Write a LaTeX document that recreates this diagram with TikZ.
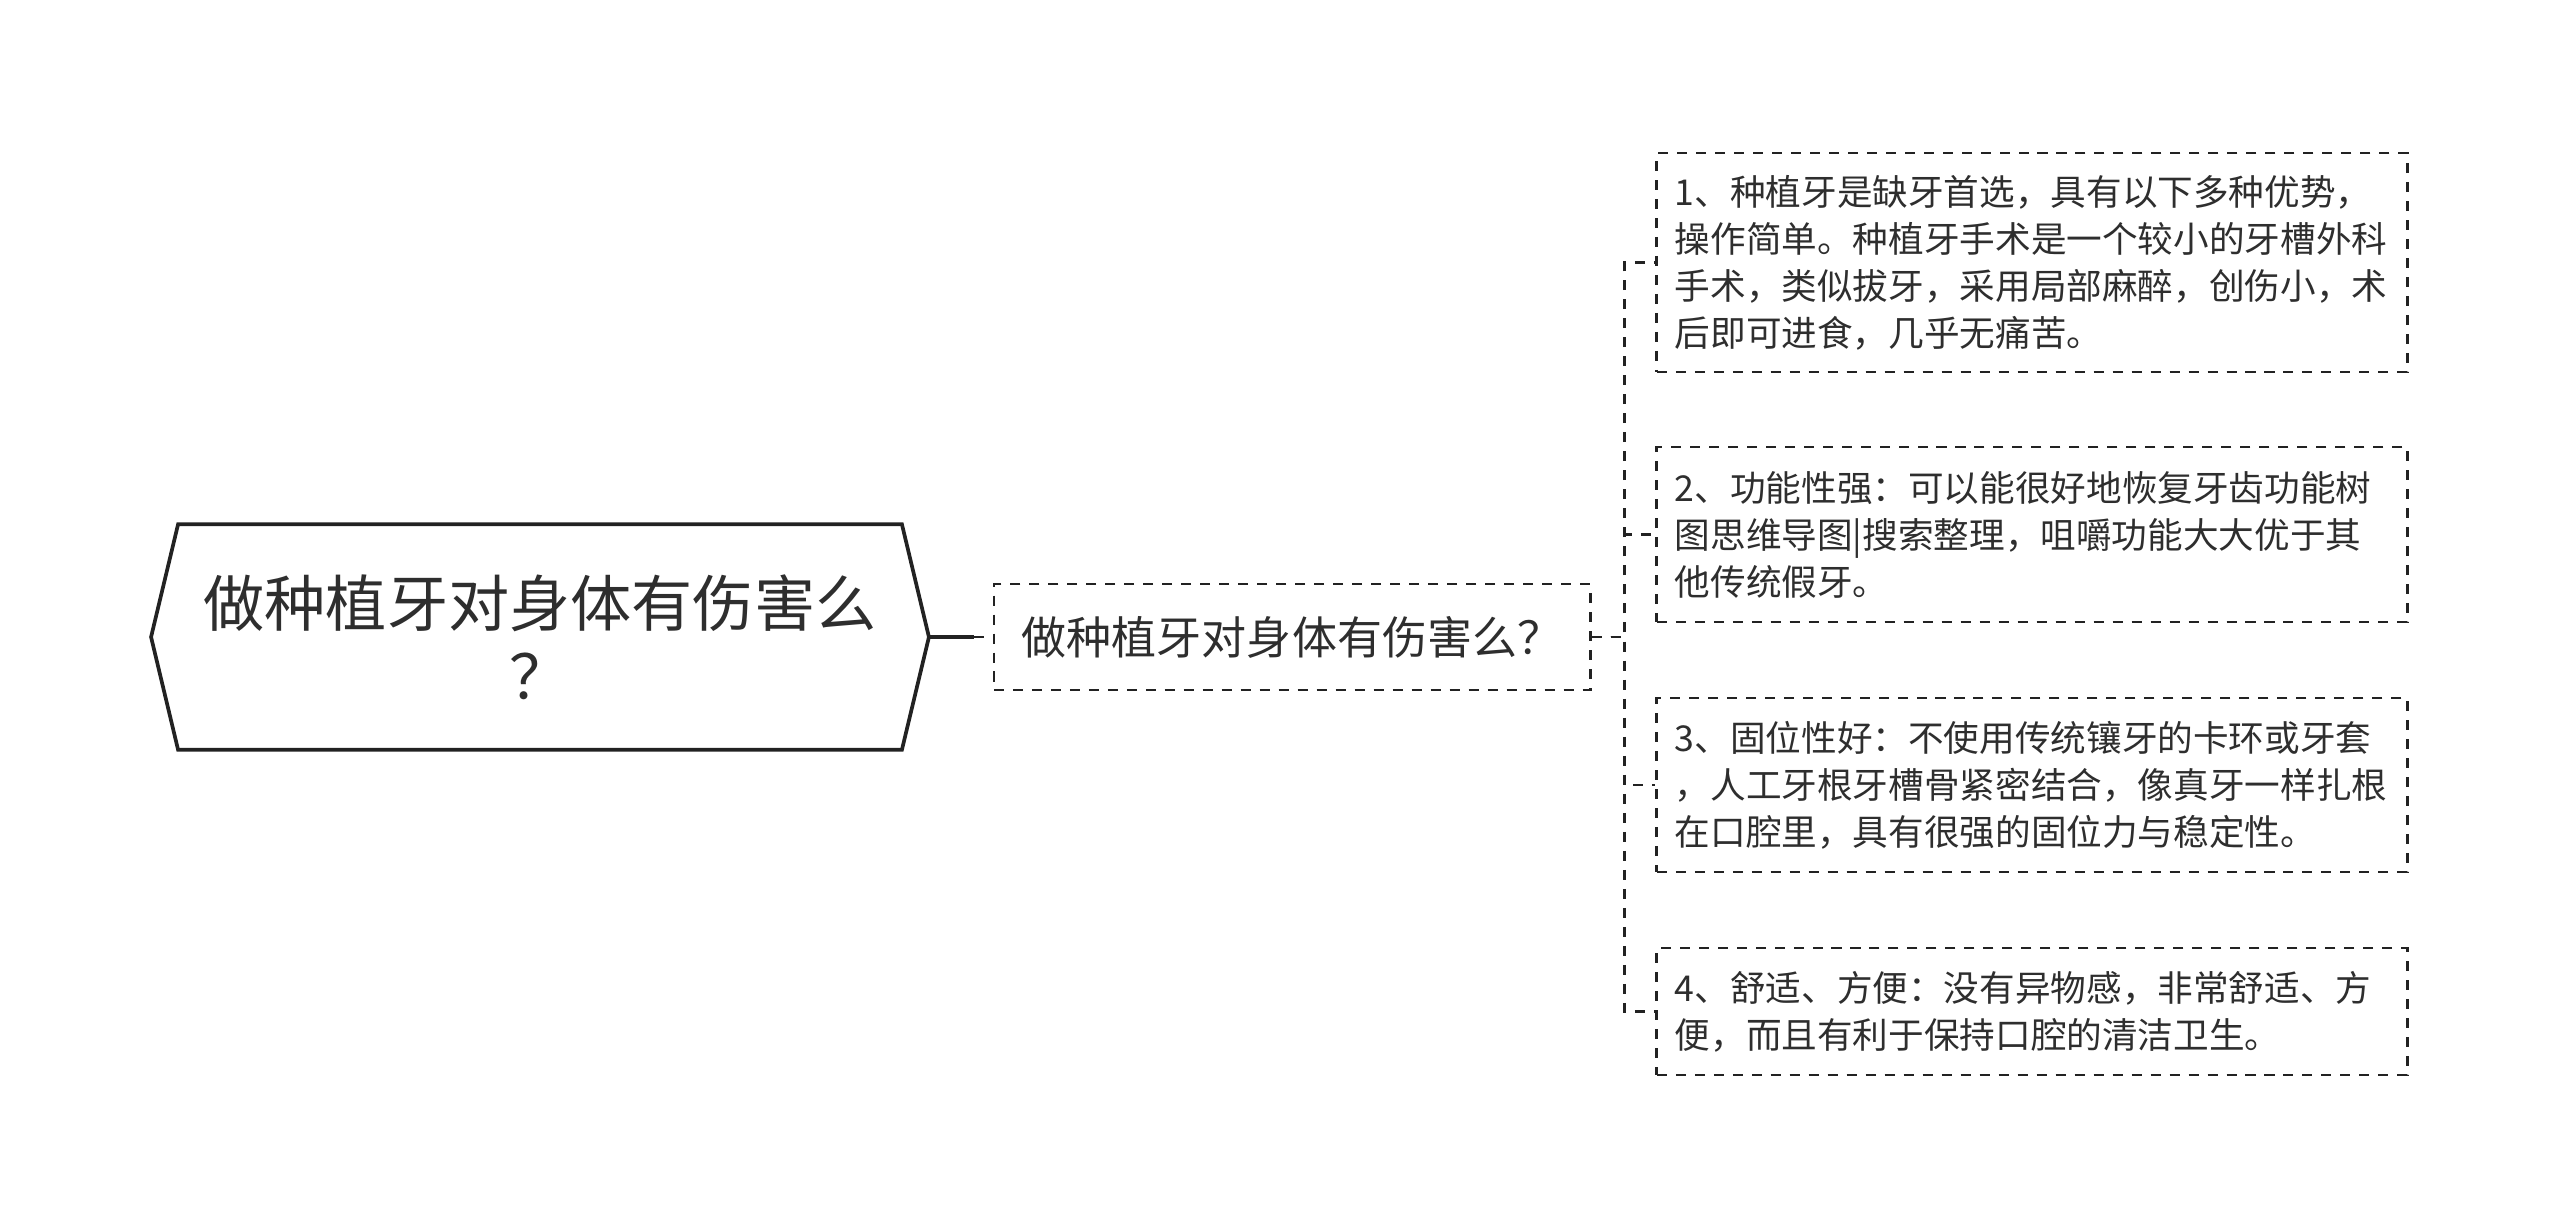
\documentclass[tikz,border=0pt]{standalone}
\usepackage{fontspec}
\setmainfont{Noto Sans CJK SC}
\definecolor{ink}{HTML}{222222}
\definecolor{txt}{HTML}{2E2E2E}

\begin{document}
\begin{tikzpicture}[x=0.01cm, y=-0.01cm,
    dashline/.style={draw=ink, line width=0.75pt, dash pattern=on 2.85pt off 2.55pt},
    topic/.style={text=txt, font=\fontsize{17.4}{20.8}\selectfont, align=center,
        minimum width=7.22cm, minimum height=2.24cm, inner sep=0pt},
    subtopic/.style={dashline, text=txt, font=\fontsize{12.8}{15}\selectfont,
        minimum width=5.96cm, minimum height=1.06cm, inner sep=0pt},
    leaf/.style={dashline, text=txt, font=\fontsize{10.13}{13.37}\selectfont, align=left,
        text width=7.14cm, inner xsep=0.18cm, inner ysep=0pt},
]
    \useasboundingbox (0,0) rectangle (2560,1229);

    % Central topic
    \node[topic] (root) at (540,637) {做种植牙对身体有伤害么\\？};
    \coordinate (roottip) at ([xshift=0.27cm]root.east);
    \draw[ink, line width=1.05pt] (root.north west) -- (root.north east) -- (roottip)
        -- (root.south east) -- (root.south west) -- ([xshift=-0.27cm]root.west) -- cycle;

    % Question
    \node[subtopic] (mid) at (1292,637) {做种植牙对身体有伤害么？};
    \draw[ink, line width=1.05pt] (roottip) -- ++(45,0) coordinate (stub);
    \draw[dashline] (stub) -- (mid.west);

    % Answers
    \node[leaf, minimum height=2.19cm] (c1) at (2032,262.5) {1、种植牙是缺牙首选，具有以下多种优势，\\操作简单。种植牙手术是一个较小的牙槽外科\\手术，类似拔牙，采用局部麻醉，创伤小，术\\后即可进食，几乎无痛苦。};
    \node[leaf, minimum height=1.75cm] (c2) at (2032,534.5) {2、功能性强：可以能很好地恢复牙齿功能树\\图思维导图|搜索整理，咀嚼功能大大优于其\\他传统假牙。};
    \node[leaf, minimum height=1.74cm] (c3) at (2032,785) {3、固位性好：不使用传统镶牙的卡环或牙套\\，人工牙根牙槽骨紧密结合，像真牙一样扎根\\在口腔里，具有很强的固位力与稳定性。};
    \node[leaf, minimum height=1.27cm] (c4) at (2032,1011.5) {4、舒适、方便：没有异物感，非常舒适、方\\便，而且有利于保持口腔的清洁卫生。};

    \coordinate (fork) at ([xshift=0.33cm]mid.east);
    \foreach \c in {c1,c2,c3,c4}
        \draw[dashline] (mid.east) -- (fork) |- (\c.west);
\end{tikzpicture}
\end{document}
